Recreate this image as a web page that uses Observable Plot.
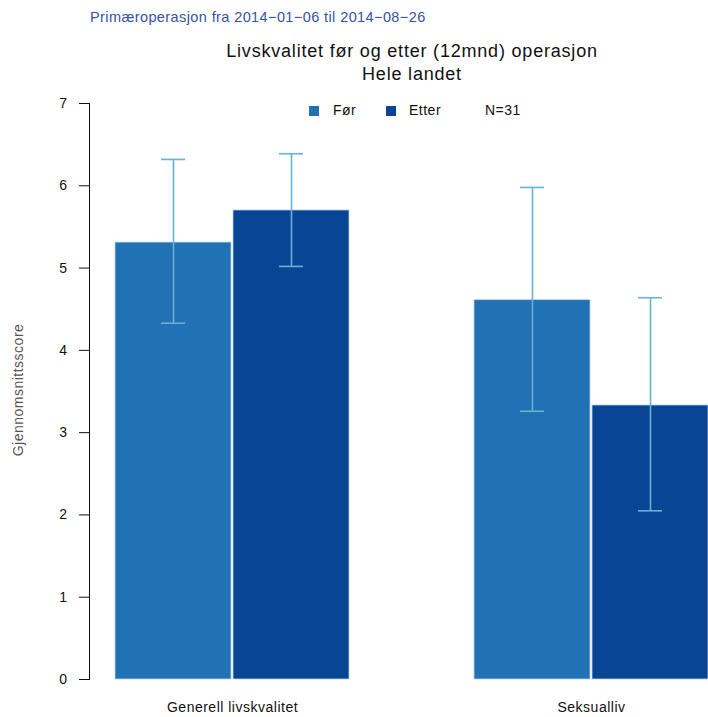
<!DOCTYPE html>
<html>
<head>
<meta charset="utf-8">
<script src="https://cdn.jsdelivr.net/npm/d3@7"></script>
<script src="https://cdn.jsdelivr.net/npm/@observablehq/plot@0.6"></script>
<style>
  html, body { margin: 0; padding: 0; background: #fff; }
  body { width: 708px; height: 717px; overflow: hidden; position: relative; font-family: "Liberation Sans", Arial, sans-serif; }
  #chart { position: absolute; left: 0; top: 0; }
  #chart svg { max-width: none !important; }
  .t { position: absolute; white-space: nowrap; }
  #sub { left: 90px; top: 9px; font-size: 14.5px; letter-spacing: 0.4px; color: #3553a6; }
  #title { left: 412px; top: 40px; transform: translateX(-50%); font-size: 18px; letter-spacing: 0.8px; color: #111; text-align: center; line-height: 23px; }
  #ylab { left: 18px; top: 390px; transform: translate(-50%, -50%) rotate(-90deg); font-size: 14px; letter-spacing: 0.5px; color: #555; }
  #legend { left: 0; top: 0; width: 708px; height: 0; }
  .sw { position: absolute; top: 106px; width: 10px; height: 10px; }
  .lt { position: absolute; top: 102px; font-size: 14px; letter-spacing: 0.5px; color: #111; }
</style>
</head>
<body>
<div id="chart"></div>
<div class="t" id="sub">Primæroperasjon fra 2014−01−06 til 2014−08−26</div>
<div class="t" id="title">Livskvalitet før og etter (12mnd) operasjon<br>Hele landet</div>
<div class="t" id="ylab">Gjennomsnittsscore</div>
<div class="t" id="legend"></div>
<script>
// ---- data ----
const categories = ["Generell livskvalitet", "Seksualliv"];
const groups = ["Før", "Etter"];
const meanFor   = [5.31, 4.61];
const meanEtter = [5.70, 3.33];
const lowFor    = [4.33, 3.26];
const lowEtter  = [5.02, 2.05];
const highFor   = [6.32, 5.98];
const highEtter = [6.39, 4.64];
const yTicks = [0, 1, 2, 3, 4, 5, 6, 7];
const colors = ["#2171b5", "#084594"];
const nLabel = "N=31";

const rows = [];
categories.forEach((c, i) => {
  rows.push({cat: c, grp: "Før", mean: meanFor[i], lo: lowFor[i], hi: highFor[i]});
  rows.push({cat: c, grp: "Etter", mean: meanEtter[i], lo: lowEtter[i], hi: highEtter[i]});
});

const errColor = "#6baed6";
const barInset = 25;

const plot = Plot.plot({
  width: 720,
  height: 717,
  marginLeft: 89,
  marginRight: 11,
  marginTop: 103,
  marginBottom: 38,
  style: {fontFamily: "'Liberation Sans', Arial, sans-serif", fontSize: "14px", letterSpacing: "0.5px", color: "#111", background: "transparent", maxWidth: "none"},
  fx: {domain: categories, paddingInner: 0.273, paddingOuter: 0, label: null, axis: null},
  x: {domain: groups, paddingInner: 0.015, paddingOuter: 0, insetLeft: barInset, axis: null},
  y: {domain: [0, 7], label: null, axis: null},
  color: {domain: groups, range: colors},
  marks: [
    Plot.barY(rows, {fx: "cat", x: "grp", y: "mean", fill: "grp", stroke: "#b9d4ee", strokeWidth: 0.8}),
    Plot.ruleX(rows, {fx: "cat", x: "grp", y1: "lo", y2: "hi", stroke: errColor, strokeWidth: 1.6}),
    Plot.tickY(rows, {fx: "cat", x: "grp", y: "lo", stroke: errColor, strokeWidth: 1.6, inset: 46}),
    Plot.tickY(rows, {fx: "cat", x: "grp", y: "hi", stroke: errColor, strokeWidth: 1.6, inset: 46}),
    Plot.axisY({ticks: yTicks, tickSize: 10, tickPadding: 12, label: null, tickFormat: d3.format("d")}),
    Plot.frame({anchor: "left", facetAnchor: "left", stroke: "#111"}),
    Plot.axisFx({anchor: "bottom", tickSize: 0, tickPadding: 23, label: null, dx: barInset / 2})
  ]
});
document.getElementById("chart").appendChild(plot);

// legend
const leg = d3.select("#legend");
const swX = [309, 386];
const txX = [333, 409];
groups.forEach((g, i) => {
  leg.append("div").attr("class", "sw").style("left", swX[i] + "px").style("background", colors[i]);
  leg.append("div").attr("class", "lt").style("left", txX[i] + "px").text(g);
});
leg.append("div").attr("class", "lt").style("left", "485px").text(nLabel);
</script>
</body>
</html>
